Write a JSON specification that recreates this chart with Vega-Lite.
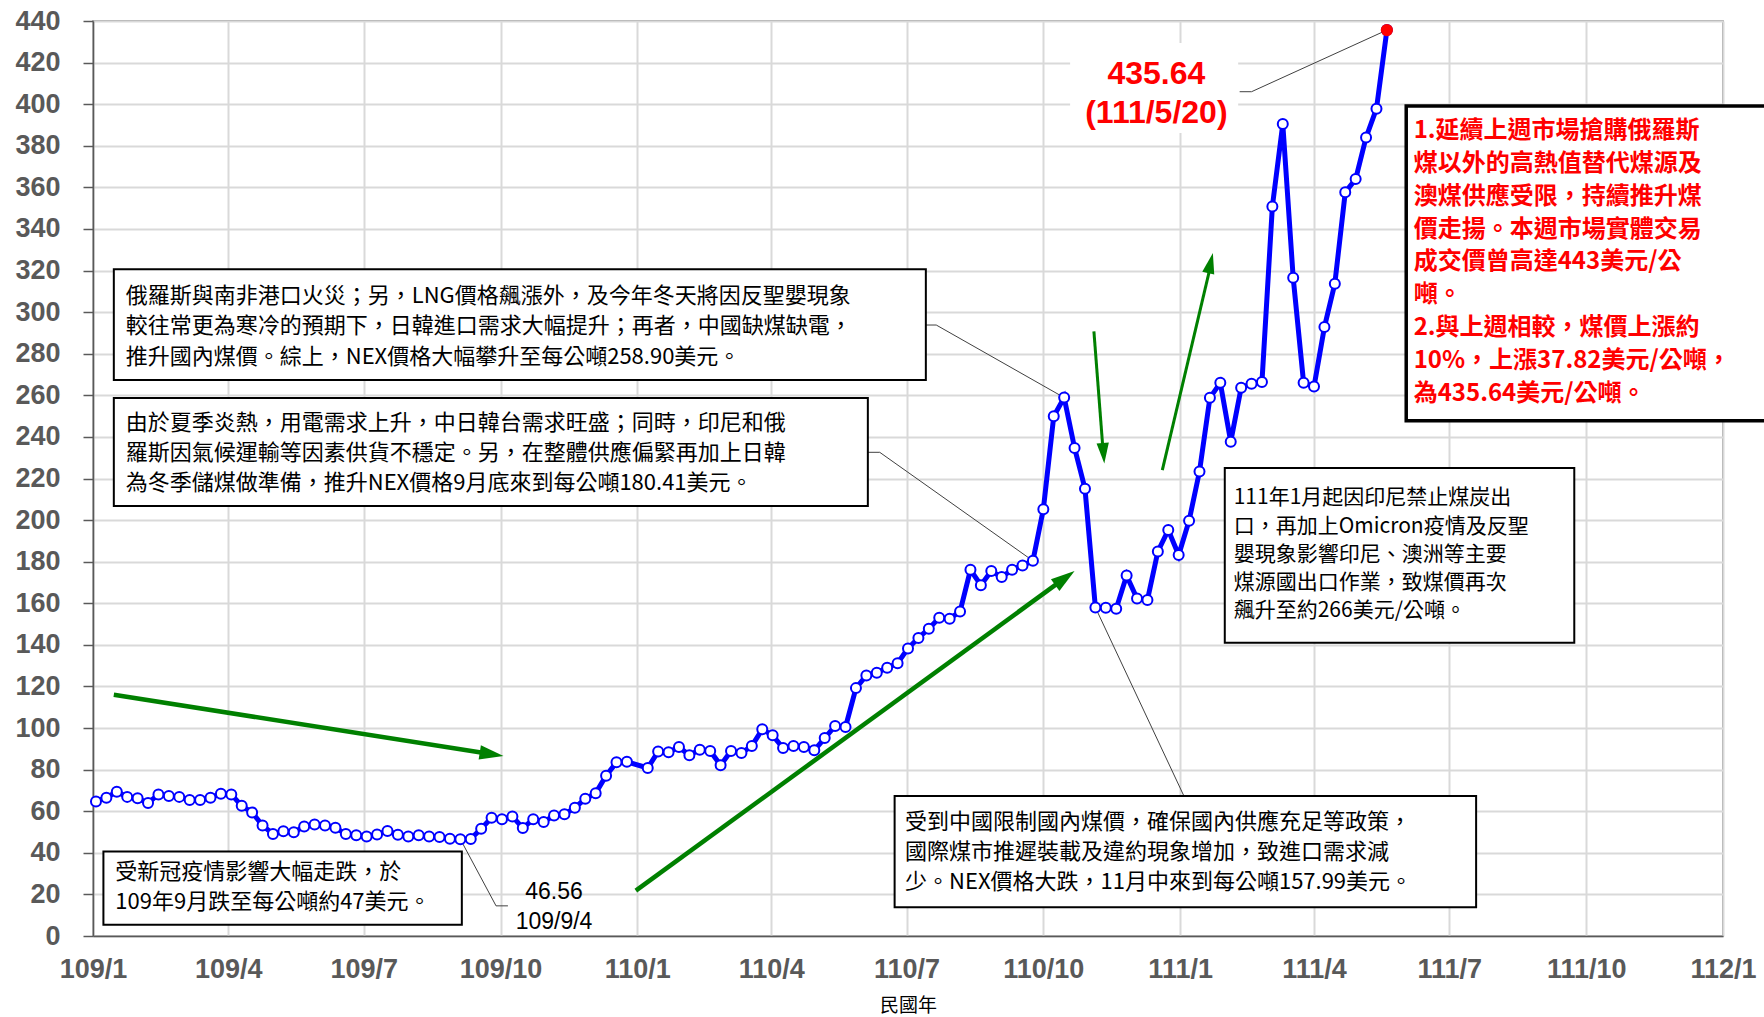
{
  "$schema": "https://vega.github.io/schema/vega-lite/v6.json",
  "width": 1630,
  "height": 915,
  "autosize": "none",
  "padding": {"left": 93, "right": 41, "top": 21, "bottom": 81},
  "background": "white",
  "config": {"view": {"stroke": "#808080", "strokeWidth": 1.5}},
  "datasets": {
    "price": [
      {"date": "2020-01-03", "value": 64.7}, {"date": "2020-01-10", "value": 66.5}, {"date": "2020-01-17", "value": 69.4},
      {"date": "2020-01-24", "value": 66.9}, {"date": "2020-01-31", "value": 66.2}, {"date": "2020-02-07", "value": 63.9},
      {"date": "2020-02-14", "value": 68.1}, {"date": "2020-02-21", "value": 67.3}, {"date": "2020-02-28", "value": 66.9},
      {"date": "2020-03-06", "value": 65.4}, {"date": "2020-03-13", "value": 65.4}, {"date": "2020-03-20", "value": 66.5},
      {"date": "2020-03-27", "value": 68.4}, {"date": "2020-04-03", "value": 68.1}, {"date": "2020-04-10", "value": 62.6},
      {"date": "2020-04-17", "value": 59.4}, {"date": "2020-04-24", "value": 53.1}, {"date": "2020-05-01", "value": 49.1},
      {"date": "2020-05-08", "value": 50.4}, {"date": "2020-05-15", "value": 49.9}, {"date": "2020-05-22", "value": 52.6},
      {"date": "2020-05-29", "value": 53.6}, {"date": "2020-06-05", "value": 53.1}, {"date": "2020-06-12", "value": 52.0},
      {"date": "2020-06-19", "value": 49.1}, {"date": "2020-06-26", "value": 48.4}, {"date": "2020-07-03", "value": 47.9},
      {"date": "2020-07-10", "value": 48.8}, {"date": "2020-07-17", "value": 50.5}, {"date": "2020-07-24", "value": 48.7},
      {"date": "2020-07-31", "value": 47.8}, {"date": "2020-08-07", "value": 48.4}, {"date": "2020-08-14", "value": 47.8},
      {"date": "2020-08-21", "value": 47.6}, {"date": "2020-08-28", "value": 46.8}, {"date": "2020-09-04", "value": 46.56},
      {"date": "2020-09-11", "value": 46.7}, {"date": "2020-09-18", "value": 51.6}, {"date": "2020-09-25", "value": 56.9},
      {"date": "2020-10-02", "value": 56.1}, {"date": "2020-10-09", "value": 57.5}, {"date": "2020-10-16", "value": 51.9},
      {"date": "2020-10-23", "value": 56.1}, {"date": "2020-10-30", "value": 54.8}, {"date": "2020-11-06", "value": 58.0},
      {"date": "2020-11-13", "value": 58.5}, {"date": "2020-11-20", "value": 61.7}, {"date": "2020-11-27", "value": 66.0},
      {"date": "2020-12-04", "value": 68.7}, {"date": "2020-12-11", "value": 77.1}, {"date": "2020-12-18", "value": 83.5},
      {"date": "2020-12-25", "value": 83.8}, {"date": "2021-01-08", "value": 80.8}, {"date": "2021-01-15", "value": 88.7},
      {"date": "2021-01-22", "value": 88.4}, {"date": "2021-01-29", "value": 90.9}, {"date": "2021-02-05", "value": 86.9},
      {"date": "2021-02-12", "value": 89.6}, {"date": "2021-02-19", "value": 89.0}, {"date": "2021-02-26", "value": 82.1},
      {"date": "2021-03-05", "value": 89.0}, {"date": "2021-03-12", "value": 88.0}, {"date": "2021-03-19", "value": 91.4},
      {"date": "2021-03-26", "value": 99.4}, {"date": "2021-04-02", "value": 96.5}, {"date": "2021-04-09", "value": 90.4},
      {"date": "2021-04-16", "value": 91.4}, {"date": "2021-04-23", "value": 90.9}, {"date": "2021-04-30", "value": 89.3},
      {"date": "2021-05-07", "value": 95.2}, {"date": "2021-05-14", "value": 101.0}, {"date": "2021-05-21", "value": 100.5},
      {"date": "2021-05-28", "value": 119.2}, {"date": "2021-06-04", "value": 125.3}, {"date": "2021-06-11", "value": 126.6},
      {"date": "2021-06-18", "value": 129.0}, {"date": "2021-06-25", "value": 131.2}, {"date": "2021-07-02", "value": 138.3},
      {"date": "2021-07-09", "value": 143.3}, {"date": "2021-07-16", "value": 147.8}, {"date": "2021-07-23", "value": 153.0},
      {"date": "2021-07-30", "value": 152.6}, {"date": "2021-08-06", "value": 156.0}, {"date": "2021-08-13", "value": 176.1},
      {"date": "2021-08-20", "value": 168.7}, {"date": "2021-08-27", "value": 175.5}, {"date": "2021-09-03", "value": 172.6},
      {"date": "2021-09-10", "value": 176.1}, {"date": "2021-09-17", "value": 178.2}, {"date": "2021-09-24", "value": 180.41},
      {"date": "2021-10-01", "value": 205.2}, {"date": "2021-10-08", "value": 249.9}, {"date": "2021-10-15", "value": 258.9},
      {"date": "2021-10-22", "value": 234.7}, {"date": "2021-10-29", "value": 215.1}, {"date": "2021-11-05", "value": 157.99},
      {"date": "2021-11-12", "value": 157.9}, {"date": "2021-11-19", "value": 157.4}, {"date": "2021-11-26", "value": 173.3},
      {"date": "2021-12-03", "value": 162.3}, {"date": "2021-12-10", "value": 161.6}, {"date": "2021-12-17", "value": 184.9},
      {"date": "2021-12-24", "value": 195.2}, {"date": "2021-12-31", "value": 183.2}, {"date": "2022-01-07", "value": 199.7},
      {"date": "2022-01-14", "value": 223.4}, {"date": "2022-01-21", "value": 258.8}, {"date": "2022-01-28", "value": 266.0},
      {"date": "2022-02-04", "value": 237.7}, {"date": "2022-02-11", "value": 263.6}, {"date": "2022-02-18", "value": 265.6},
      {"date": "2022-02-25", "value": 266.4}, {"date": "2022-03-04", "value": 350.8}, {"date": "2022-03-11", "value": 390.5},
      {"date": "2022-03-18", "value": 316.5}, {"date": "2022-03-25", "value": 266.0}, {"date": "2022-04-01", "value": 264.2},
      {"date": "2022-04-08", "value": 292.8}, {"date": "2022-04-15", "value": 313.7}, {"date": "2022-04-22", "value": 357.6},
      {"date": "2022-04-29", "value": 364.0}, {"date": "2022-05-06", "value": 384.0}, {"date": "2022-05-13", "value": 397.82},
      {"date": "2022-05-20", "value": 435.64}
    ],
    "labelbg": [
      {"date": "2021-10-19", "value": 429.4, "date2": "2022-02-09", "value2": 386.1}
    ],
    "arrowsThick": [
      {"date": "2020-01-15", "value": 116.0, "date2": "2020-09-20", "value2": 88.0},
      {"date": "2020-12-31", "value": 21.8, "date2": "2021-10-11", "value2": 169.8}
    ],
    "arrowsThin": [
      {"date": "2021-11-04", "value": 290.8, "date2": "2021-11-10", "value2": 234.9},
      {"date": "2021-12-20", "value": 224.0, "date2": "2022-01-21", "value2": 320.9}
    ],
    "leaders": [
      {"date": "2021-07-14", "value": 293.8, "date2": "2021-07-21", "value2": 293.8},
      {"date": "2021-07-21", "value": 293.8, "date2": "2021-10-15", "value2": 258.9},
      {"date": "2021-06-05", "value": 232.6, "date2": "2021-06-13", "value2": 232.6},
      {"date": "2021-06-13", "value": 232.6, "date2": "2021-09-24", "value2": 180.41},
      {"date": "2020-09-04", "value": 46.56, "date2": "2020-09-28", "value2": 14.5},
      {"date": "2020-09-28", "value": 14.5, "date2": "2020-10-06", "value2": 14.5},
      {"date": "2021-11-05", "value": 157.99, "date2": "2022-01-04", "value2": 66.6},
      {"date": "2022-02-10", "value": 406.0, "date2": "2022-02-18", "value2": 406.0},
      {"date": "2022-02-18", "value": 406.0, "date2": "2022-05-20", "value2": 435.64}
    ],
    "boxes": [
      {"date": "2020-01-15", "value": 320.6, "date2": "2021-07-14", "value2": 267.4},
      {"date": "2020-01-15", "value": 258.7, "date2": "2021-06-05", "value2": 206.8},
      {"date": "2020-01-08", "value": 40.6, "date2": "2020-09-05", "value2": 5.4},
      {"date": "2022-01-31", "value": 225.1, "date2": "2022-09-23", "value2": 141.0},
      {"date": "2021-06-23", "value": 67.3, "date2": "2022-07-19", "value2": 13.8}
    ],
    "boxRed": [
      {"date": "2022-06-02", "value": 399.1, "date2": "2023-02-15", "value2": 247.8}
    ],
    "notes": [
      {"date": "2020-01-23", "value": 308.0, "t": "俄羅斯與南非港口火災；另，LNG價格飆漲外，及今年冬天將因反聖嬰現象"},
      {"date": "2020-01-23", "value": 293.3, "t": "較往常更為寒冷的預期下，日韓進口需求大幅提升；再者，中國缺煤缺電，"},
      {"date": "2020-01-23", "value": 278.6, "t": "推升國內煤價。綜上，NEX價格大幅攀升至每公噸258.90美元。"},
      {"date": "2020-01-23", "value": 246.7, "t": "由於夏季炎熱，用電需求上升，中日韓台需求旺盛；同時，印尼和俄"},
      {"date": "2020-01-23", "value": 232.2, "t": "羅斯因氣候運輸等因素供貨不穩定。另，在整體供應偏緊再加上日韓"},
      {"date": "2020-01-23", "value": 217.7, "t": "為冬季儲煤做準備，推升NEX價格9月底來到每公噸180.41美元。"},
      {"date": "2020-01-16", "value": 30.9, "t": "受新冠疫情影響大幅走跌，於"},
      {"date": "2020-01-16", "value": 16.5, "t": "109年9月跌至每公噸約47美元。"},
      {"date": "2021-06-30", "value": 55.0, "t": "受到中國限制國內煤價，確保國內供應充足等政策，"},
      {"date": "2021-06-30", "value": 40.5, "t": "國際煤市推遲裝載及違約現象增加，致進口需求減"},
      {"date": "2021-06-30", "value": 26.0, "t": "少。NEX價格大跌，11月中來到每公噸157.99美元。"}
    ],
    "notesD": [
      {"date": "2022-02-06", "value": 210.4, "t": "111年1月起因印尼禁止煤炭出"},
      {"date": "2022-02-06", "value": 196.9, "t": "口，再加上Omicron疫情及反聖"},
      {"date": "2022-02-06", "value": 183.3, "t": "嬰現象影響印尼、澳洲等主要"},
      {"date": "2022-02-06", "value": 169.8, "t": "煤源國出口作業，致煤價再次"},
      {"date": "2022-02-06", "value": 156.3, "t": "飆升至約266美元/公噸。"}
    ],
    "notesRed": [
      {"date": "2022-06-07", "value": 387.1, "t": "1.延續上週市場搶購俄羅斯"},
      {"date": "2022-06-07", "value": 371.3, "t": "煤以外的高熱值替代煤源及"},
      {"date": "2022-06-07", "value": 355.5, "t": "澳煤供應受限，持續推升煤"},
      {"date": "2022-06-07", "value": 339.7, "t": "價走揚。本週市場實體交易"},
      {"date": "2022-06-07", "value": 323.9, "t": "成交價曾高達443美元/公"},
      {"date": "2022-06-07", "value": 308.1, "t": "噸。"},
      {"date": "2022-06-07", "value": 292.3, "t": "2.與上週相較，煤價上漲約"},
      {"date": "2022-06-07", "value": 276.5, "t": "10%，上漲37.82美元/公噸，"},
      {"date": "2022-06-07", "value": 260.7, "t": "為435.64美元/公噸。"}
    ],
    "lowLabel": [
      {"date": "2020-11-06", "value": 21.2, "t": "46.56"},
      {"date": "2020-11-06", "value": 6.5, "t": "109/9/4"}
    ],
    "highLabel": [
      {"date": "2021-12-16", "value": 414.4, "t": "435.64"},
      {"date": "2021-12-16", "value": 396.0, "t": "(111/5/20)"}
    ]
  },
  "data": {"name": "price"},
  "encoding": {
    "x": {
      "field": "date",
      "type": "temporal",
      "title": "民國年",
      "scale": {
        "type": "utc",
        "nice": false,
        "domain": [{"year": 2020, "month": 1, "date": 1, "utc": true}, {"year": 2023, "month": 1, "date": 1, "utc": true}]
      },
      "axis": {
        "values": [
          {"year": 2020, "month": 1, "date": 1, "utc": true}, {"year": 2020, "month": 4, "date": 1, "utc": true},
          {"year": 2020, "month": 7, "date": 1, "utc": true}, {"year": 2020, "month": 10, "date": 1, "utc": true},
          {"year": 2021, "month": 1, "date": 1, "utc": true}, {"year": 2021, "month": 4, "date": 1, "utc": true},
          {"year": 2021, "month": 7, "date": 1, "utc": true}, {"year": 2021, "month": 10, "date": 1, "utc": true},
          {"year": 2022, "month": 1, "date": 1, "utc": true}, {"year": 2022, "month": 4, "date": 1, "utc": true},
          {"year": 2022, "month": 7, "date": 1, "utc": true}, {"year": 2022, "month": 10, "date": 1, "utc": true},
          {"year": 2023, "month": 1, "date": 1, "utc": true}
        ],
        "labelExpr": "(utcyear(datum.value) - 1911) + '/' + (utcmonth(datum.value) + 1)",
        "labelFont": "Liberation Sans",
        "labelFontWeight": "bold",
        "labelFontSize": 27,
        "labelColor": "#595959",
        "labelPadding": 20,
        "labelFlush": false,
        "labelOverlap": false,
        "ticks": false,
        "domainColor": "#595959",
        "domainWidth": 1.5,
        "gridColor": "#d9d9d9",
        "gridWidth": 2,
        "titleFont": "Noto Sans CJK TC",
        "titleFontSize": 19,
        "titleFontWeight": "normal",
        "titleColor": "#000000",
        "titlePadding": 14
      }
    },
    "y": {
      "field": "value",
      "type": "quantitative",
      "title": null,
      "scale": {"domain": [0, 440], "nice": false},
      "axis": {
        "values": [0, 20, 40, 60, 80, 100, 120, 140, 160, 180, 200, 220, 240, 260, 280, 300, 320, 340, 360, 380, 400, 420, 440],
        "labelFont": "Liberation Sans",
        "labelFontWeight": "bold",
        "labelFontSize": 27,
        "labelColor": "#595959",
        "labelPadding": 23,
        "labelFlush": false,
        "labelOverlap": false,
        "tickSize": 10,
        "tickColor": "#595959",
        "tickWidth": 1.5,
        "domainColor": "#595959",
        "domainWidth": 1.5,
        "gridColor": "#d9d9d9",
        "gridWidth": 2
      }
    }
  },
  "layer": [
    {
      "data": {"name": "labelbg"},
      "mark": {"type": "rect", "fill": "white", "strokeWidth": 0},
      "encoding": {"x2": {"field": "date2"}, "y2": {"field": "value2"}}
    },
    {
      "data": {"name": "arrowsThick"},
      "mark": {"type": "rule", "color": "#008000", "strokeWidth": 4.5, "strokeCap": "butt"},
      "encoding": {"x2": {"field": "date2"}, "y2": {"field": "value2"}}
    },
    {
      "data": {"name": "arrowsThin"},
      "mark": {"type": "rule", "color": "#008000", "strokeWidth": 3, "strokeCap": "butt"},
      "encoding": {"x2": {"field": "date2"}, "y2": {"field": "value2"}}
    },
    {
      "data": {"values": [{"date": "2020-10-03", "value": 86.5}]},
      "mark": {"type": "point", "shape": "M0,0L-2,-0.6L-2,0.6Z", "filled": true, "color": "#008000", "opacity": 1, "size": 576, "angle": 9},
      "encoding": {}
    },
    {
      "data": {"values": [{"date": "2021-10-22", "value": 175.5}]},
      "mark": {"type": "point", "shape": "M0,0L-2,-0.6L-2,0.6Z", "filled": true, "color": "#008000", "opacity": 1, "size": 576, "angle": -36.1},
      "encoding": {}
    },
    {
      "data": {"values": [{"date": "2021-11-11", "value": 227.2}]},
      "mark": {"type": "point", "shape": "M0,0L-2,-0.6L-2,0.6Z", "filled": true, "color": "#008000", "opacity": 1, "size": 420, "angle": 85.5},
      "encoding": {}
    },
    {
      "data": {"values": [{"date": "2022-01-23", "value": 328.4}]},
      "mark": {"type": "point", "shape": "M0,0L-2,-0.6L-2,0.6Z", "filled": true, "color": "#008000", "opacity": 1, "size": 420, "angle": -76.9},
      "encoding": {}
    },
    {
      "data": {"name": "leaders"},
      "mark": {"type": "rule", "color": "#404040", "strokeWidth": 1},
      "encoding": {"x2": {"field": "date2"}, "y2": {"field": "value2"}}
    },
    {
      "mark": {"type": "line", "color": "#0000ff", "strokeWidth": 5},
      "encoding": {}
    },
    {
      "mark": {"type": "point", "shape": "circle", "filled": true, "fill": "white", "stroke": "#0000ff", "strokeWidth": 2, "size": 100, "opacity": 1},
      "encoding": {}
    },
    {
      "transform": [{"filter": "datum.value == 435.64"}],
      "mark": {"type": "point", "shape": "circle", "filled": true, "color": "#ff0000", "size": 150, "opacity": 1},
      "encoding": {}
    },
    {
      "data": {"name": "boxes"},
      "mark": {"type": "rect", "fill": "white", "stroke": "#000000", "strokeWidth": 2},
      "encoding": {"x2": {"field": "date2"}, "y2": {"field": "value2"}}
    },
    {
      "data": {"name": "boxRed"},
      "mark": {"type": "rect", "fill": "white", "stroke": "#000000", "strokeWidth": 3.5},
      "encoding": {"x2": {"field": "date2"}, "y2": {"field": "value2"}}
    },
    {
      "data": {"name": "notes"},
      "mark": {"type": "text", "align": "left", "baseline": "middle", "font": "Noto Sans CJK TC", "fontSize": 22, "color": "#000000"},
      "encoding": {"text": {"field": "t"}}
    },
    {
      "data": {"name": "notesD"},
      "mark": {"type": "text", "align": "left", "baseline": "middle", "font": "Noto Sans CJK TC", "fontSize": 21, "color": "#000000"},
      "encoding": {"text": {"field": "t"}}
    },
    {
      "data": {"name": "notesRed"},
      "mark": {"type": "text", "align": "left", "baseline": "middle", "font": "Noto Sans CJK TC", "fontSize": 24, "fontWeight": "bold", "color": "#ff0000"},
      "encoding": {"text": {"field": "t"}}
    },
    {
      "data": {"name": "lowLabel"},
      "mark": {"type": "text", "align": "center", "baseline": "middle", "font": "Liberation Sans", "fontSize": 23, "color": "#000000"},
      "encoding": {"text": {"field": "t"}}
    },
    {
      "data": {"name": "highLabel"},
      "mark": {"type": "text", "align": "center", "baseline": "middle", "font": "Liberation Sans", "fontSize": 32, "fontWeight": "bold", "color": "#ff0000"},
      "encoding": {"text": {"field": "t"}}
    }
  ]
}
